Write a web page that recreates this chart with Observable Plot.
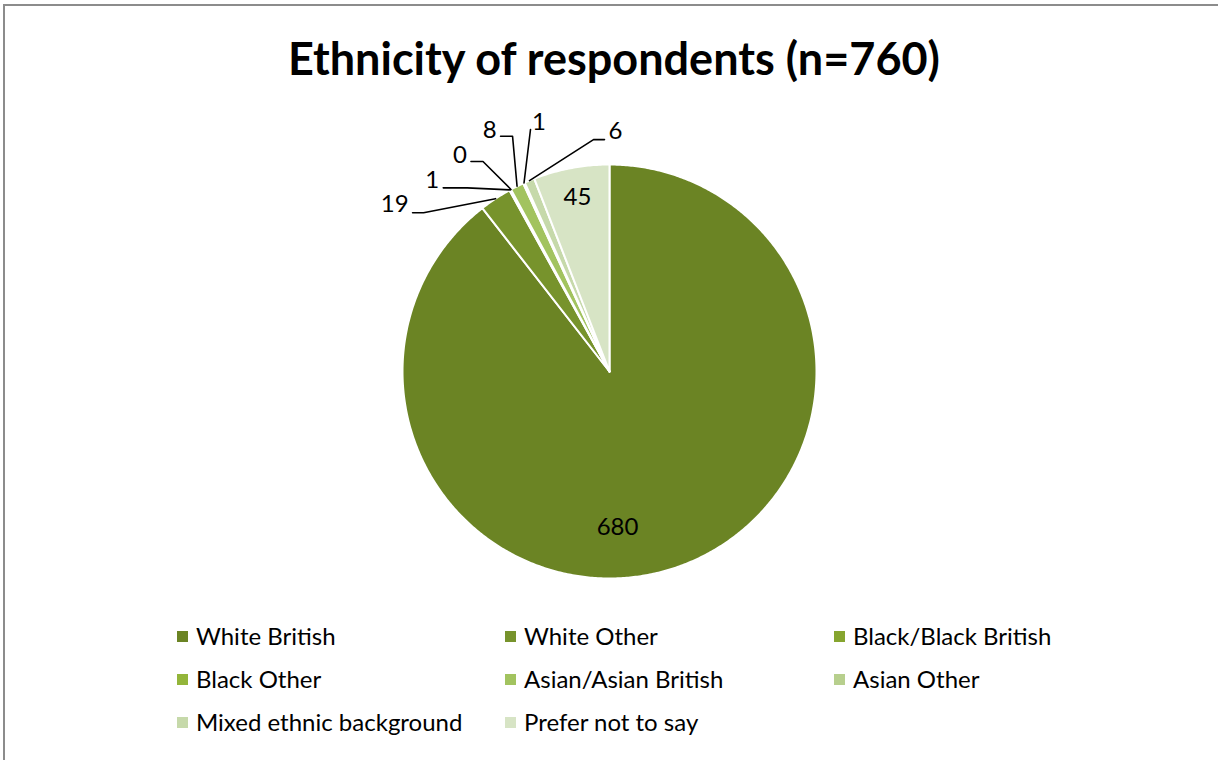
<!DOCTYPE html>
<html><head><meta charset="utf-8">
<script src="https://cdn.jsdelivr.net/npm/d3@7"></script>
<script src="https://cdn.jsdelivr.net/npm/@observablehq/plot@0.6"></script>
<style>
html,body{margin:0;padding:0;background:#fff;}
#page{position:relative;width:1218px;height:760px;overflow:hidden;font-family:Lato,"Open Sans",sans-serif;color:#000;}
#frame{position:absolute;left:3px;top:4px;width:1300px;height:800px;border-top:2px solid #8c8c8c;border-left:2px solid #8c8c8c;}
#title{position:absolute;left:0;width:1228px;top:31px;text-align:center;font-weight:700;font-size:45px;line-height:54px;}
#chart{position:absolute;left:0;top:90px;}
.lg{position:absolute;font-size:24px;line-height:28px;white-space:nowrap;}
.sw{position:absolute;width:11px;height:11px;}
</style>
</head><body>
<div id="page">
  <div id="frame"></div>
  <div id="title">Ethnicity of respondents (n=760)</div>
  <div id="chart"></div>
  <div id="legend"></div>
</div>
<script>
// ---- data ----
const categories = ["White British","White Other","Black/Black British","Black Other","Asian/Asian British","Asian Other","Mixed ethnic background","Prefer not to say"];
const counts = [680, 19, 1, 0, 8, 1, 6, 45];
const colors = ["#6b8424","#77932c","#86a52f","#93b53a","#a2c35f","#b7cf8d","#c6d9aa","#d7e4c5"];

// ---- layout (pixels) ----
const R = 207, CX = 609, CY = 281;           // pie centre inside the svg
const labelLayout = {
  "White British":            {kind:"in",  t:[8,156]},
  "Prefer not to say":        {kind:"in",  t:[-32,-174]},
  "White Other":              {kind:"out", pts:[[-72,14],[-83,14]], t:[-87,6],  anchor:"end"},
  "Black/Black British":      {kind:"out", pts:[[-43,-2],[-67,-2]], t:[-71,-10], anchor:"end"},
  "Black Other":              {kind:"out", pts:[[-28,-28],[-40,-28]], t:[-44,-34], anchor:"end"},
  "Asian/Asian British":      {kind:"out", pts:[[-4.5,-50],[-16.5,-50]], t:[-20.5,-56], anchor:"end"},
  "Asian Other":              {kind:"out", pts:[[6.5,-53.5]], t:[15,-61], anchor:"middle"},
  "Mixed ethnic background":  {kind:"out", pts:[[64,-41],[75,-41]], t:[79,-49], anchor:"start"}
};

const arcs = d3.pie().sort(null).value(d => d)(counts);
const slicePts = [];
arcs.forEach((a, i) => {
  const cat = categories[i];
  slicePts.push({cat, x: 0, y: 0});
  const n = Math.max(1, Math.ceil((a.endAngle - a.startAngle) / (Math.PI / 360)));
  for (let k = 0; k <= n; k++) {
    const t = a.startAngle + (a.endAngle - a.startAngle) * k / n;
    slicePts.push({cat, x: Math.sin(t), y: Math.cos(t)});
  }
});

const leaderPts = [], labels = [];
arcs.forEach((a, i) => {
  const cat = categories[i];
  const L = labelLayout[cat];
  const mid = (a.startAngle + a.endAngle) / 2;
  const ex = Math.sin(mid), ey = Math.cos(mid);
  if (L.kind === "in") {
    labels.push({cat, text: String(counts[i]), x: L.t[0] / R, y: -L.t[1] / R, anchor: "middle"});
  } else {
    leaderPts.push({cat, x: ex, y: ey});
    L.pts.forEach(p => leaderPts.push({cat, x: ex + p[0] / R, y: ey - p[1] / R}));
    labels.push({cat, text: String(counts[i]), x: ex + L.t[0] / R, y: ey - L.t[1] / R, anchor: L.anchor});
  }
});

const txt = (anchor) => Plot.text(labels.filter(d => d.anchor === anchor), {x: "x", y: "y", text: "text", textAnchor: anchor, lineAnchor: "middle", fontSize: 24, fill: "#000"});

const chart = Plot.plot({
  width: 1218, height: 520, margin: 0,
  x: {domain: [-1, 1], range: [CX - R, CX + R], axis: null},
  y: {domain: [-1, 1], range: [CY + R, CY - R], axis: null},
  color: {domain: categories, range: colors},
  style: {background: "transparent", fontFamily: "Lato, 'Open Sans', sans-serif", overflow: "visible"},
  marks: [
    Plot.line(slicePts, {x: "x", y: "y", z: "cat", fill: "cat", stroke: "white", strokeWidth: 2, strokeLinejoin: "round", curve: "linear-closed"}),
    Plot.line(leaderPts, {x: "x", y: "y", z: "cat", stroke: "#000", strokeWidth: 1.6}),
    txt("end"), txt("start"), txt("middle")
  ]
});
document.getElementById("chart").appendChild(chart);

// legend
const colX = [177, 505, 834], rowY = [636, 679, 722];
const lg = document.getElementById("legend");
categories.forEach((c, i) => {
  const col = i % 3, row = Math.floor(i / 3);
  const sw = document.createElement("div");
  sw.className = "sw";
  sw.style.left = colX[col] + "px";
  sw.style.top = (rowY[row] - 5) + "px";
  sw.style.background = colors[i];
  lg.appendChild(sw);
  const t = document.createElement("div");
  t.className = "lg";
  t.style.left = (colX[col] + 19) + "px";
  t.style.top = (rowY[row] - 14) + "px";
  t.textContent = c;
  lg.appendChild(t);
});
</script>
</body></html>
